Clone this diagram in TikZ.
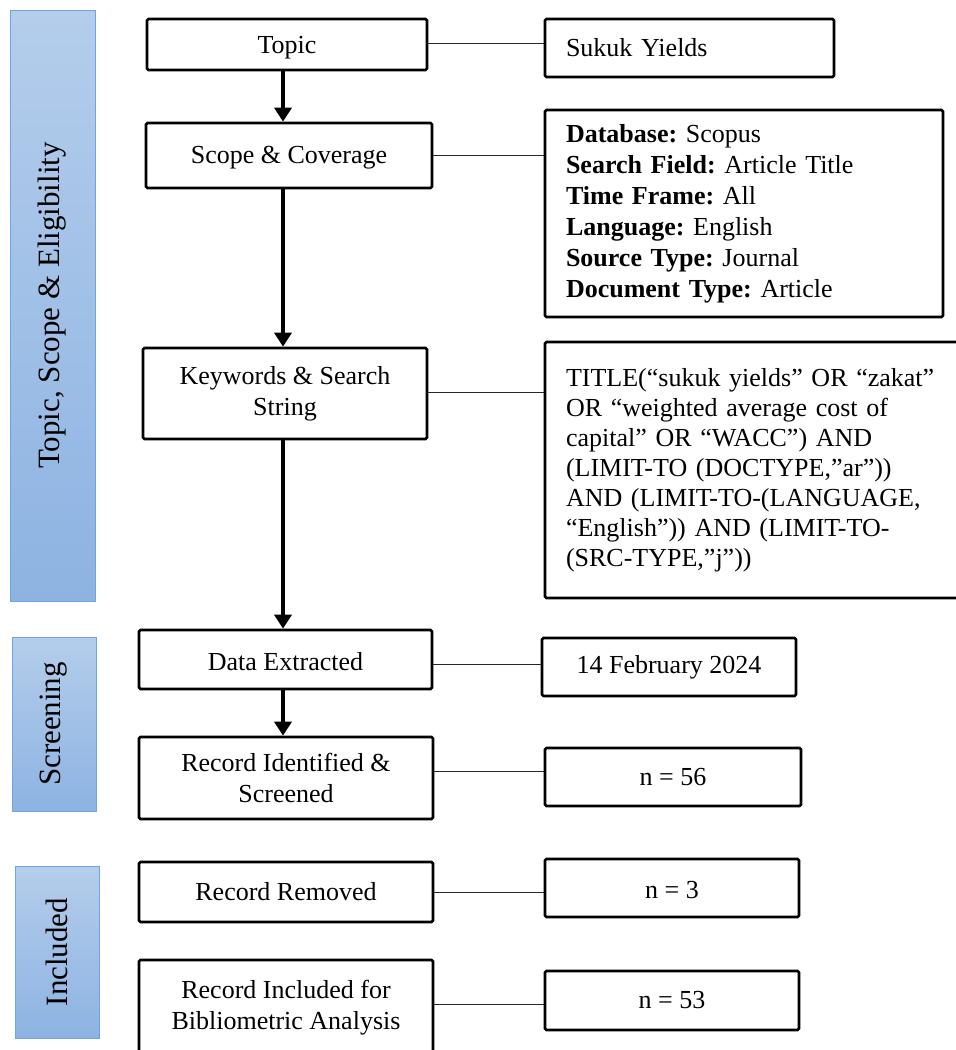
\documentclass[tikz,border=0pt]{standalone}
\usepackage{fontspec}
\setmainfont{Liberation Serif}
\usetikzlibrary{arrows.meta}
\frenchspacing
\definecolor{bartop}{RGB}{180,205,235}
\definecolor{barbot}{RGB}{141,179,226}
\definecolor{barline}{RGB}{110,165,225}
\newcommand{\bxfont}{\fontsize{26}{31}\selectfont}
\newcommand{\barfont}{\fontsize{31}{36}\selectfont}
\newcommand{\lowered}[2]{\raisebox{-#1}[\height][\depth]{#2}}
\tikzset{
  flowbox/.style={draw, line width=2.7pt, rounded corners=1.5pt, inner sep=0pt, align=center, font=\bxfont, fill=white},
  infobox/.style={draw, line width=2.7pt, rounded corners=1.5pt, inner xsep=21pt, inner ysep=0pt, align=left, font=\bxfont, fill=white},
  stagebar/.style={draw=barline, line width=1pt, top color=bartop, bottom color=barbot, inner sep=0pt, font=\barfont},
  flowarrow/.style={line width=3.5pt, -{Triangle[length=14pt,width=17pt]}},
  linkline/.style={line width=1pt, draw=black!85}
}
\begin{document}
\begin{tikzpicture}[x=1pt,y=-1pt]
\useasboundingbox (0,0) rectangle (956,1050);
\clip (0,0) rectangle (956,1050);
% stage bars
\node[stagebar, minimum width=85pt, minimum height=591pt] (bar1) at (52.5,305.5) {\rotatebox{90}{Topic, Scope \& Eligibility}};
\node[stagebar, minimum width=84pt, minimum height=174pt] (bar2) at (54,724) {\rotatebox{90}{Screening}};
\node[stagebar, minimum width=84pt, minimum height=172pt] (bar3) at (57,952) {\rotatebox{90}{Included}};
% main column
\node[flowbox, minimum width=280pt, minimum height=51pt] (topic) at (287,44.5) {\lowered{3.5pt}{Topic}};
\node[flowbox, minimum width=286pt, minimum height=65pt] (scope) at (289,155.5) {\lowered{2pt}{Scope \& Coverage}};
\node[flowbox, minimum width=284pt, minimum height=91pt] (keys) at (285,393.5) {Keywords \& Search\\String};
\node[flowbox, minimum width=293pt, minimum height=59pt] (data) at (285.5,659.5) {\lowered{2pt}{Data Extracted}};
\node[flowbox, minimum width=294pt, minimum height=82pt] (ident) at (286,778) {Record Identified \&\\Screened};
\node[flowbox, minimum width=294pt, minimum height=60pt] (removed) at (286,892) {Record Removed};
\node[flowbox, minimum width=294pt, minimum height=96pt] (incl) at (286,1008) {Record Included for\\Bibliometric Analysis};
% right column
\node[infobox, text width=247pt, minimum height=58pt] (sukuk) at (689.5,48) {Sukuk Yields};
\node[infobox, text width=356pt, minimum height=207pt] (db) at (744,213.5) {\textbf{Database:} Scopus\\\textbf{Search Field:} Article Title\\\textbf{Time Frame:} All\\\textbf{Language:} English\\\textbf{Source Type:} Journal\\\textbf{Document Type:} Article};
\node[infobox, text width=379pt, minimum height=256pt, font=\fontsize{26}{30}\selectfont] (query) at (755.5,470) {TITLE(“sukuk yields” OR “zakat”\\OR “weighted average cost of\\capital” OR “WACC”) AND\\(LIMIT-TO (DOCTYPE,”ar”))\\AND (LIMIT-TO-(LANGUAGE,\\“English”)) AND (LIMIT-TO-\\(SRC-TYPE,”j”))};
\node[flowbox, minimum width=254pt, minimum height=58pt] (date) at (669,667) {14 February 2024};
\node[flowbox, minimum width=256pt, minimum height=58pt] (n56) at (673,777) {n = 56};
\node[flowbox, minimum width=254pt, minimum height=58pt] (n3) at (672,888) {\lowered{2pt}{n = 3}};
\node[flowbox, minimum width=254pt, minimum height=59pt] (n53) at (672,1000.5) {n = 53};
% arrows
\draw[flowarrow] ([xshift=-4pt]topic.south) -- ([xshift=-6pt]scope.north);
\draw[flowarrow] ([xshift=-6pt]scope.south) -- ([xshift=-2pt]keys.north);
\draw[flowarrow] ([xshift=-2pt]keys.south) -- ([xshift=-2.5pt]data.north);
\draw[flowarrow] ([xshift=-2.5pt]data.south) -- ([xshift=-3pt]ident.north);
% links
\draw[linkline] ([yshift=1.5pt]topic.east) -- ([yshift=1.5pt]topic.east -| sukuk.west);
\draw[linkline] (scope.east) -- (scope.east -| db.west);
\draw[linkline] ([yshift=1.5pt]keys.east) -- ([yshift=1.5pt]keys.east -| query.west);
\draw[linkline] ([yshift=-4.5pt]data.east) -- ([yshift=-4.5pt]data.east -| date.west);
\draw[linkline] ([yshift=7pt]ident.east) -- ([yshift=7pt]ident.east -| n56.west);
\draw[linkline] (removed.east) -- (removed.east -| n3.west);
\draw[linkline] ([yshift=4pt]incl.east) -- ([yshift=4pt]incl.east -| n53.west);
\end{tikzpicture}
\end{document}
